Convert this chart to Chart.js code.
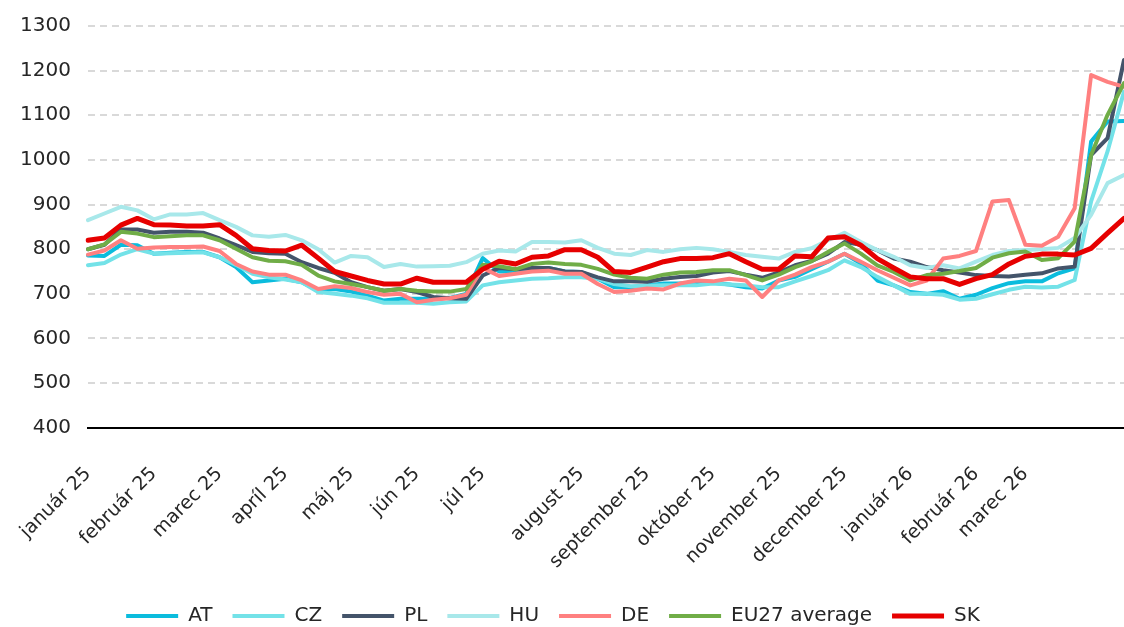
<!DOCTYPE html>
<html>
<head>
<meta charset="utf-8">
<script src="https://cdn.jsdelivr.net/npm/chart.js@4.4.1/dist/chart.umd.min.js"></script>
<style>
  html, body { margin: 0; padding: 0; background: #fff; }
</style>
</head>
<body>
<canvas id="chartPrices" width="1124" height="627"></canvas>
<script>
// weekly points, jan 2025 - mar 2026
var tickLabels = ['január 25', 'február 25', 'marec 25', 'apríl 25', 'máj 25', 'jún 25', 'júl 25',
    'august 25', 'september 25', 'október 25', 'november 25', 'december 25', 'január 26', 'február 26', 'marec 26'];
var tickAt = [0, 4, 8, 12, 16, 20, 24, 30, 34, 38, 42, 46, 50, 54, 57];

var AT = [786, 785, 810, 809, 790, 792, 794, 794, 782, 760, 726, 730, 734, 726, 707, 711,
    705, 696, 685, 689, 689, 689, 691, 700, 780, 750, 750, 755, 758, 750, 749, 734,
    715, 715, 719, 723, 723, 723, 725, 721, 715, 712, 730, 738, 755, 772, 790, 768,
    730, 719, 704, 700, 706, 689, 698, 713, 724, 728, 728, 746, 757, 1041, 1086, 1087];
var CZ = [764, 769, 788, 800, 790, 791, 792, 793, 782, 765, 745, 737, 732, 726, 704, 700,
    696, 690, 680, 680, 680, 678, 681, 683, 719, 726, 730, 734, 735, 737, 737, 734,
    722, 717, 718, 719, 719, 719, 723, 721, 719, 715, 715, 728, 740, 753, 775, 760,
    738, 719, 700, 700, 698, 687, 689, 699, 709, 716, 714, 716, 731, 907, 1019, 1153];
var PL = [800, 810, 844, 844, 837, 839, 839, 837, 824, 809, 794, 791, 790, 771, 758, 747,
    726, 715, 707, 711, 704, 693, 690, 689, 741, 758, 755, 758, 758, 750, 749, 737,
    728, 728, 727, 734, 738, 740, 748, 751, 743, 736, 748, 764, 774, 790, 816, 810,
    798, 779, 772, 760, 753, 748, 742, 740, 739, 743, 746, 757, 761, 1011, 1049, 1224];
var HU = [865, 880, 895, 887, 867, 878, 878, 881, 865, 850, 831, 828, 832, 820, 800, 770,
    785, 782, 760, 767, 761, 762, 763, 771, 790, 797, 795, 816, 816, 815, 820, 803,
    790, 787, 798, 794, 800, 803, 800, 794, 787, 783, 779, 794, 802, 820, 837, 816,
    798, 783, 764, 758, 764, 757, 772, 787, 796, 798, 800, 803, 825, 877, 948, 966];
var DE = [788, 797, 820, 801, 804, 805, 805, 806, 796, 767, 750, 743, 743, 730, 711, 717,
    713, 704, 698, 700, 681, 687, 690, 698, 758, 740, 745, 750, 752, 745, 745, 722,
    704, 707, 712, 710, 723, 730, 728, 734, 730, 693, 730, 743, 760, 772, 790, 772,
    753, 736, 719, 730, 779, 785, 796, 907, 910, 810, 808, 828, 892, 1190, 1175, 1164];
var EU27 = [800, 811, 839, 835, 827, 829, 831, 831, 820, 801, 782, 774, 773, 765, 741, 728,
    722, 715, 707, 711, 707, 705, 705, 711, 765, 762, 755, 767, 770, 767, 765, 756,
    743, 736, 734, 743, 748, 749, 753, 753, 742, 730, 743, 760, 773, 794, 813, 790,
    764, 749, 730, 742, 745, 751, 758, 781, 791, 795, 776, 780, 817, 1011, 1101, 1172];
var SK = [820, 825, 854, 869, 855, 854, 852, 852, 855, 831, 801, 797, 796, 809, 780, 750,
    740, 730, 722, 722, 735, 726, 726, 726, 755, 773, 767, 782, 785, 799, 799, 782,
    750, 748, 760, 772, 779, 779, 781, 790, 772, 755, 755, 785, 783, 825, 828, 809,
    779, 758, 738, 734, 734, 721, 734, 743, 767, 784, 789, 789, 787, 802, 836, 869];

var labels = AT.map(function () { return ''; });
tickAt.forEach(function (idx, k) { labels[idx] = tickLabels[k]; });

var fontFam = '"DejaVu Sans", sans-serif';
var textCol = '#262626';

function series(name, values, color, width, order) {
    return {
        label: name,
        data: values,
        borderColor: color,
        backgroundColor: color,
        borderWidth: width,
        borderCapStyle: 'round',
        borderJoinStyle: 'round',
        pointRadius: 0,
        tension: 0,
        fill: false,
        order: order
    };
}

function isBase(c) { return c.tick && c.tick.value === 400; }

// legend sits a little left of centre in the original
var legendShift = {
    id: 'legendShift',
    afterLayout: function (chart) {
        chart.legend.left -= 9;
        chart.legend.right -= 9;
    }
};

var ctx = document.getElementById('chartPrices');
var myChart = new Chart(ctx, {
    type: 'line',
    data: {
        labels: labels,
        datasets: [
            series('AT', AT, '#0BBCDD', 4, 7),
            series('CZ', CZ, '#73E2E8', 4, 6),
            series('PL', PL, '#44546A', 4, 5),
            series('HU', HU, '#A8E8EA', 4, 4),
            series('DE', DE, '#FF8080', 4, 3),
            series('EU27 average', EU27, '#70AD47', 4, 2),
            series('SK', SK, '#E60000', 5, 1)
        ]
    },
    plugins: [legendShift],
    options: {
        responsive: false,
        animation: false,
        layout: { padding: { top: 26, left: 0, right: 0, bottom: -9 } },
        plugins: {
            legend: {
                position: 'bottom',
                labels: {
                    usePointStyle: true,
                    pointStyle: 'line',
                    pointStyleWidth: 52,
                    padding: 20,
                    color: textCol,
                    font: { family: fontFam, size: 20 },
                    sort: function (a, b) { return a.datasetIndex - b.datasetIndex; }
                }
            },
            tooltip: { enabled: false }
        },
        scales: {
            x: {
                grid: { display: false },
                border: { color: '#000000', width: 2 },
                ticks: {
                    autoSkip: false,
                    minRotation: 45,
                    maxRotation: 45,
                    padding: 27,
                    color: textCol,
                    font: { family: fontFam, size: 19 }
                },
                afterFit: function (scale) {
                    // lines run to the right edge; first label may hang past the plot
                    scale.paddingRight = 0;
                    scale.paddingLeft = 0;
                    scale.height -= 14;
                }
            },
            y: {
                min: 400,
                max: 1300,
                ticks: {
                    stepSize: 100,
                    padding: 17,
                    color: textCol,
                    font: { family: fontFam, size: 20 },
                    callback: function (v) { return String(v); }
                },
                grid: {
                    drawTicks: false,
                    lineWidth: 2,
                    color: function (c) { return isBase(c) ? '#000000' : '#D9D9D9'; }
                },
                border: {
                    display: false,
                    dash: function (c) { return isBase(c) ? [] : [7, 5]; }
                },
                afterFit: function (scale) {
                    scale.width = 88;
                    scale.paddingTop = 0;
                    scale.paddingBottom = 0;
                }
            }
        }
    }
});
</script>
</body>
</html>
